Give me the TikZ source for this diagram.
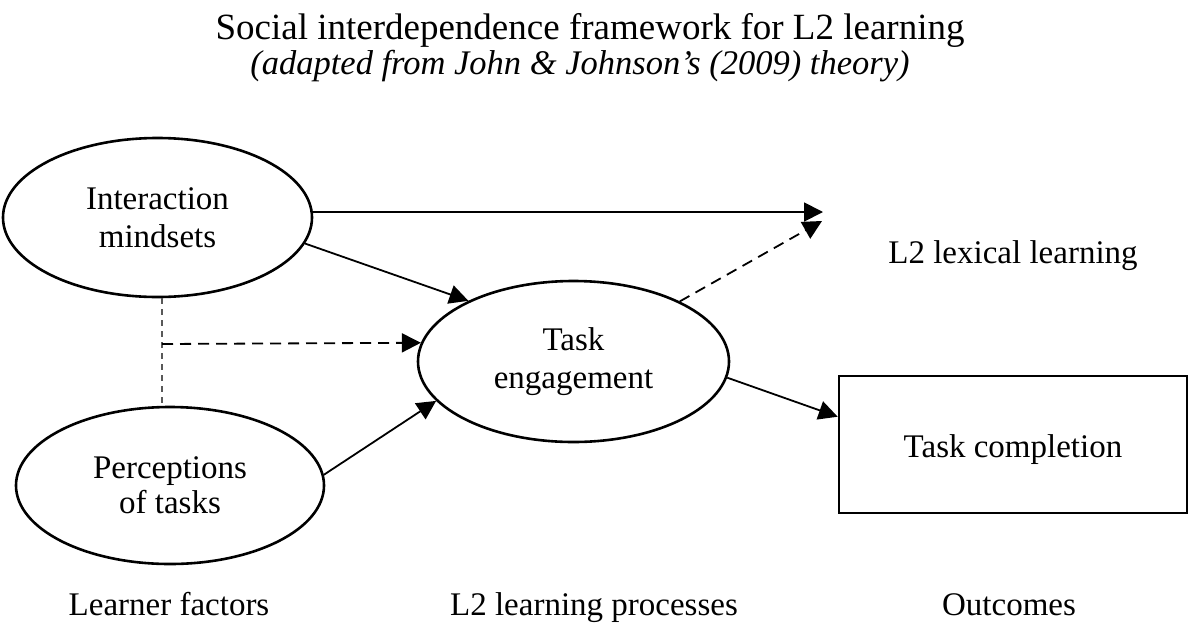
\documentclass[tikz,border=0pt]{standalone}
\usepackage{fontspec}
\setmainfont{Liberation Serif}
\usetikzlibrary{arrows.meta,shapes.geometric}
\begin{document}
\begin{tikzpicture}[x=1pt,y=-1pt,
  every node/.style={font=\fontsize{33}{38}\selectfont},
  oval/.style={draw, ellipse, line width=2.6pt, inner sep=0pt, align=center},
  box/.style={draw, rectangle, line width=2.6pt, inner sep=0pt},
  arr/.style={-{Triangle[length=19pt,width=19pt]}, line width=1.8pt},
  dsh/.style={dash pattern=on 11pt off 7pt},
  gdash/.style={draw=black!65, line width=1.4pt, dash pattern=on 6pt off 5pt},
  lbl/.style={anchor=base, inner sep=0pt}]
\useasboundingbox (0,0) rectangle (1190,627);

% title
\node[lbl, font=\fontsize{37}{42}\selectfont] (title) at (590,39) {Social interdependence framework for L2 learning};
\node[lbl, font=\fontsize{34.5}{40}\selectfont\itshape] (subtitle) at (580,74) {(adapted from John \& Johnson’s (2009) theory)};

% nodes
\node[oval, minimum width=309pt, minimum height=159pt] (im) at (157.5,217.5) {Interaction\\mindsets};
\node[oval, minimum width=308pt, minimum height=157pt, font=\fontsize{33}{35}\selectfont] (pt) at (170,485.5) {Perceptions\\of tasks};
\node[oval, minimum width=311pt, minimum height=161pt] (te) at (573.5,361.5) {Task\\engagement};
\node[box, minimum width=348pt, minimum height=137pt, text height=30pt, text depth=5pt] (tc) at (1013,444.5) {Task completion};
\node[lbl] (lex) at (1013,263) {L2 lexical learning};

% bottom labels
\node[lbl] (lf) at (169,615) {Learner factors};
\node[lbl] (lp) at (594,615) {L2 learning processes};
\node[lbl] (oc) at (1009,615) {Outcomes};

% free ends and junction
\coordinate (lexA) at (823,212);
\coordinate (lexB) at (822,221);
\coordinate (junc) at (162,344);

% connectors
\draw[arr] (im.east |- lexA) -- (lexA);
\draw[arr, dsh] (te) -- (lexB);
\draw[arr] (im.-10) -- (te.150);
\draw[arr] (pt.4.6) -- (te.196.5);
\draw[arr] (te.-6) -- (tc.171);
\draw[gdash] (im.south -| junc) -- (pt.north -| junc);
\draw[arr, dsh] (junc) -- (te.173.5);
\end{tikzpicture}
\end{document}
